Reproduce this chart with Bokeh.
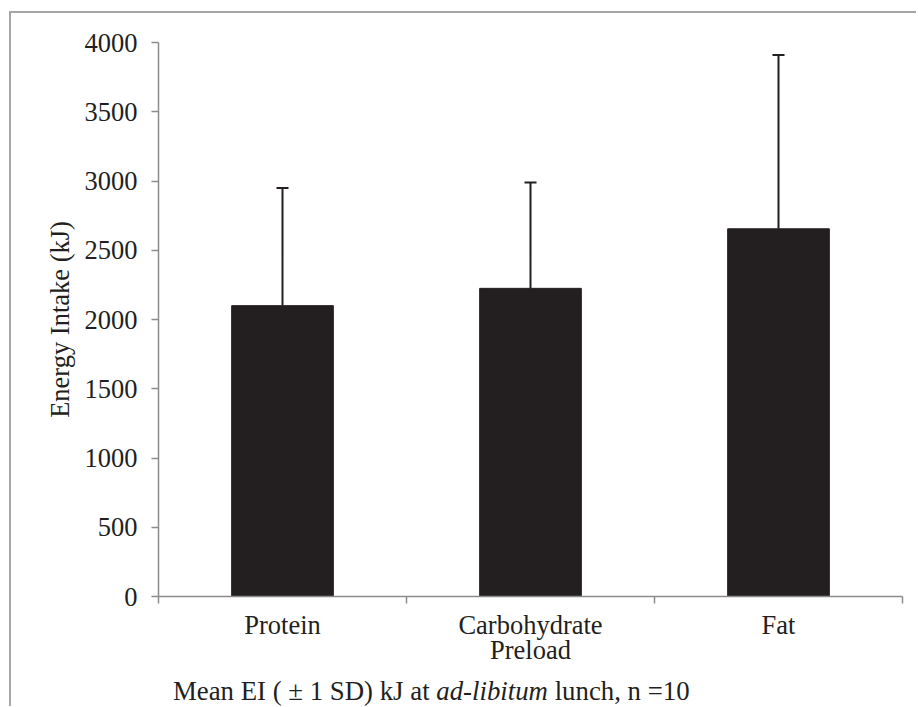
from bokeh.plotting import figure
from bokeh.layouts import column
from bokeh.models import (ColumnDataSource, FixedTicker, Whisker, TeeHead, Range1d, Div)
from bokeh.embed import file_html
from bokeh.resources import INLINE

# ---- data ----
categories = ["Protein", "Carbohydrate\nPreload", "Fat"]
mean_ei = [2100, 2225, 2655]
sd_ei = [850, 765, 1255]
y_ticks = [0, 500, 1000, 1500, 2000, 2500, 3000, 3500, 4000]
y_max = 4000
caption_before = "Mean EI ( \u00b1 1 SD) kJ at"
caption_italic = "ad-libitum"
caption_after = "lunch, n =10"

FONT = "Liberation Serif"
INK = "#231f20"
AXIS = "#8c8c8c"

xs = [i + 0.5 for i in range(len(categories))]
src = ColumnDataSource(dict(
    x=xs, top=mean_ei,
    upper=[m + s for m, s in zip(mean_ei, sd_ei)],
    lower=mean_ei,
))

p = figure(frame_width=744, frame_height=554, output_backend="svg", toolbar_location=None,
           x_range=Range1d(0, len(categories)), y_range=Range1d(0, y_max),
           min_border_left=147, min_border_right=14, min_border_top=29,
           min_border_bottom=69, margin=0)
p.outline_line_color = None
p.xgrid.visible = False
p.ygrid.visible = False

p.vbar(x="x", top="top", width=0.41, bottom=0, source=src,
       fill_color=INK, line_color=INK)

wh = Whisker(base="x", upper="upper", lower="lower", source=src,
             line_color=INK, line_width=2,
             upper_head=TeeHead(size=12, line_color=INK, line_width=2),
             lower_head=None)
p.add_layout(wh)

# y axis
ya = p.yaxis[0]
ya.ticker = FixedTicker(ticks=y_ticks)
ya.axis_line_color = AXIS
ya.axis_line_width = 1.5
ya.major_tick_line_color = AXIS
ya.major_tick_line_width = 1.5
ya.major_tick_out = 7
ya.major_tick_in = 0
ya.minor_tick_line_color = None
ya.major_label_text_font = FONT
ya.major_label_text_font_size = "26.5px"
ya.major_label_text_color = INK
ya.major_label_standoff = 14
ya.axis_label = "Energy Intake (kJ)"
ya.axis_label_text_font = FONT
ya.axis_label_text_font_size = "26.5px"
ya.axis_label_text_font_style = "normal"
ya.axis_label_text_color = INK
ya.axis_label_standoff = 7

# x axis: labels at category centres, ticks at category boundaries
xa = p.xaxis[0]
xa.ticker = FixedTicker(ticks=xs, minor_ticks=list(range(len(categories) + 1)))
xa.major_label_overrides = {x: c for x, c in zip(xs, categories)}
xa.axis_line_color = AXIS
xa.axis_line_width = 1.5
xa.major_tick_line_color = None
xa.minor_tick_line_color = AXIS
xa.minor_tick_line_width = 1.5
xa.minor_tick_out = 7
xa.minor_tick_in = 0
xa.major_label_text_font = FONT
xa.major_label_text_font_size = "26.5px"
xa.major_label_text_color = INK
xa.major_label_text_line_height = 0.85
xa.major_label_standoff = 6

caption_html = (
    f'<span style="font-family: \'{FONT}\', serif; font-size: 26.8px; color: {INK}; '
    f'line-height: 30px; white-space: nowrap;">'
    f'{caption_before} <i>{caption_italic}</i> {caption_after}</span>'
)
caption = Div(text=caption_html, margin=(8, 0, 0, 162),
              styles={"font-family": f"'{FONT}', serif", "font-size": "26.8px",
                      "line-height": "30px", "color": INK})

layout = column(p, caption, spacing=0,
                styles={"border-top": "2px solid #a6a6a6", "border-left": "2px solid #a6a6a6",
                        "margin-left": "9px", "margin-top": "11px"})

open("out.html", "w").write(file_html(layout, INLINE))
